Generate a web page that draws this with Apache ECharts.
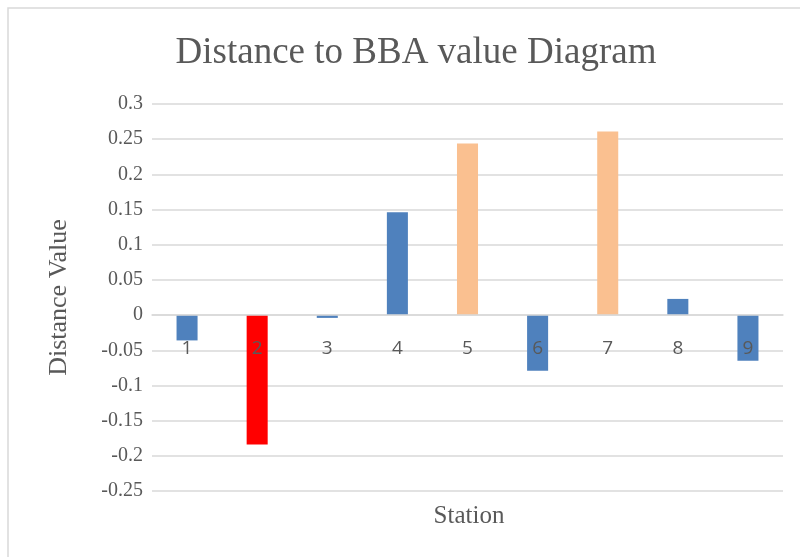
<!DOCTYPE html>
<html>
<head>
<meta charset="utf-8">
<script src="https://cdn.jsdelivr.net/npm/echarts@6/dist/echarts.min.js"></script>
<style>html,body{margin:0;padding:0;background:#fff}#c{width:800px;height:557px}</style>
</head>
<body>
<div id="c"></div>
<script>
const stations = ['1','2','3','4','5','6','7','8','9'];
const distanceValues = [-0.036, -0.184, -0.004, 0.146, 0.244, -0.079, 0.261, 0.023, -0.065];
const barColors = ['#4F81BD','#FF0000','#4F81BD','#4F81BD','#FAC090','#4F81BD','#FAC090','#4F81BD','#4F81BD'];
const yMin = -0.25, yMax = 0.3, yStep = 0.05;

const chart = echarts.init(document.getElementById('c'), null, {renderer:'canvas'});
const serif = '"Liberation Serif","Times New Roman",serif';
const gridTop = 104, gridBottom = 66, plotH = 557 - gridTop - gridBottom;
const zeroOffset = -plotH * (0 - yMin) / (yMax - yMin);
chart.setOption({
  backgroundColor:'#fff',
  animation:false,
  graphic:[{type:'rect', shape:{x:8,y:8,width:800,height:560}, style:{fill:'none', stroke:'#D9D9D9', lineWidth:1.5}, z:-1}],
  title:[
    {text:'Distance to BBA value Diagram', left:411, top:30, textAlign:'center',
     textStyle:{fontFamily:serif, fontWeight:'normal', fontSize:37, color:'#595959'}},
    {text:'Station', left:464, top:499, textAlign:'center',
     textStyle:{fontFamily:serif, fontWeight:'normal', fontSize:25, color:'#595959'}}
  ],
  grid:{left:152, right:17, top:gridTop, bottom:gridBottom},
  xAxis:{type:'category', data:stations, position:'bottom', offset:zeroOffset, z:20,
    axisLine:{onZero:false, lineStyle:{color:'#D9D9D9', width:1.5}},
    axisTick:{show:false},
    axisLabel:{margin:24, fontFamily:'"Open Sans","Liberation Sans",sans-serif', fontSize:19, color:'#595959'}},
  yAxis:{type:'value', min:yMin, max:yMax, interval:yStep,
    name:'Distance Value', nameLocation:'middle', nameGap:80,
    nameTextStyle:{fontFamily:serif, fontSize:26, color:'#595959'},
    axisLine:{show:false}, axisTick:{show:false},
    splitLine:{lineStyle:{color:'#D9D9D9', width:1.5}},
    axisLabel:{margin:9, fontFamily:serif, fontSize:20, color:'#595959',
      formatter:v=>String(parseFloat(v.toFixed(2)))}},
  series:[{type:'bar', barWidth:'30%', z:2,
    data:distanceValues.map((v,i)=>({value:v, itemStyle:{color:barColors[i]}}))}]
});
</script>
</body>
</html>
